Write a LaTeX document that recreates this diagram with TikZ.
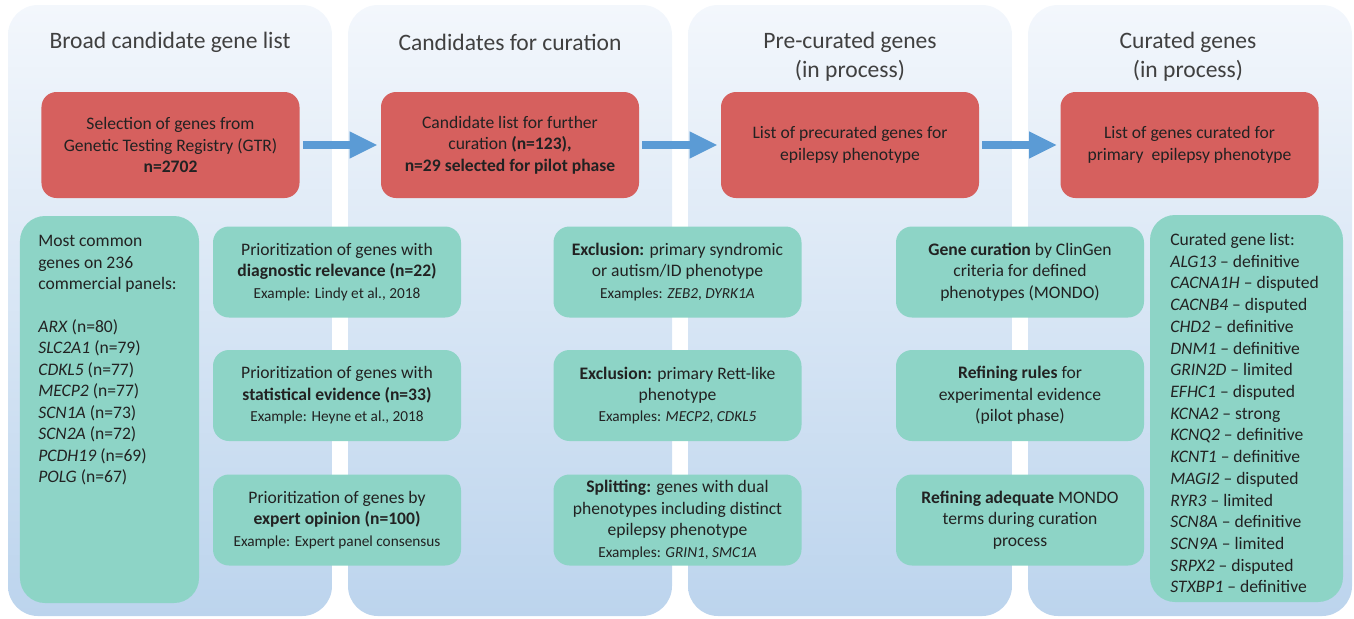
\documentclass[tikz,border=0pt]{standalone}
\usepackage{fontspec}
\setmainfont{Carlito}
\usetikzlibrary{arrows.meta,positioning}
\definecolor{redfill}{HTML}{D6605E}
\definecolor{tealfill}{HTML}{8DD4C6}
\definecolor{bgtop}{HTML}{F3F7FC}
\definecolor{bgbot}{HTML}{BCD4ED}
\definecolor{arrblue}{HTML}{5B9BD5}
\definecolor{txt}{HTML}{222222}
\newcommand{\bodyfont}{\fontsize{10}{12.2}\selectfont}
\newcommand{\exfont}{\fontsize{8.7}{10.5}\selectfont}
\newcommand{\ttlfont}{\fontsize{13.4}{16.4}\selectfont}
\begin{document}
\begin{tikzpicture}[x=0.2mm, y=-0.2mm, font=\bodyfont, text=txt,
  colbg/.style={top color=bgtop, bottom color=bgbot, rounded corners=6mm},
  ttl/.style={font=\ttlfont, text=black!75, align=center},
  redbox/.style={fill=redfill, rounded corners=3mm, minimum width=51.6mm, minimum height=21.2mm, align=center, inner sep=0},
  tealbox/.style={fill=tealfill, rounded corners=3.2mm, minimum width=49.6mm, minimum height=18.2mm, align=center, inner sep=0},
  listbox/.style={fill=tealfill, rounded corners=5mm, minimum height=77.4mm, inner sep=0},
  arr/.style={arrblue, line width=1.7mm, -{Triangle[length=5.6mm, width=5mm]}, shorten <=0.6mm, shorten >=0.6mm}]
  \useasboundingbox (0,0) rectangle (1354,618);
  \foreach \x in {8,348,688,1028} \shade[colbg] (\x,5) rectangle ++(324,611);
  \node[ttl] (t1) at (170,42) {Broad candidate gene list};
  \node[ttl] (t2) at (510,42) {Candidates for curation};
  \node[ttl] (t3) at (850,57) {Pre-curated genes\\(in process)};
  \node[ttl] (t4) at (1188,57) {Curated genes\\(in process)};
  \node[redbox] (gtr) at (170.5,145) {Selection of genes from\\Genetic Testing Registry (GTR)\\\textbf{n=2702}};
  \node[redbox] (cand) at (510,145) {Candidate list for further\\curation \textbf{(n=123),}\\\textbf{n=29 selected for pilot phase}};
  \node[redbox] (precur) at (850,145) {List of precurated genes for\\epilepsy phenotype};
  \node[redbox] (cur) at (1189.5,145) {List of genes curated for\\primary\ \ epilepsy phenotype};
  \draw[arr] (gtr) -- (cand);
  \draw[arr] (cand) -- (precur);
  \draw[arr] (precur) -- (cur);
  \node[listbox, minimum width=35.8mm] (panels) at (109.5,409.5) {};
  \node[anchor=north west, align=left, inner sep=0] (panelstxt) at (38,235) {Most common\\genes on 236\\commercial panels:\\[12.2pt]
    \textit{ARX} (n=80)\\\textit{SLC2A1} (n=79)\\\textit{CDKL5} (n=77)\\\textit{MECP2} (n=77)\\
    \textit{SCN1A} (n=73)\\\textit{SCN2A} (n=72)\\\textit{PCDH19} (n=69)\\\textit{POLG} (n=67)};
  \node[tealbox] (diag) at (337,272) {Prioritization of genes with\\\textbf{diagnostic relevance (n=22)}\\{\exfont Example: Lindy et al., 2018}};
  \node[tealbox] (stat) at (337,395.5) {Prioritization of genes with\\\textbf{statistical evidence (n=33)}\\{\exfont Example: Heyne et al., 2018}};
  \node[tealbox] (expert) at (337,520) {Prioritization of genes by\\\textbf{expert opinion (n=100)}\\{\exfont Example: Expert panel consensus}};
  \node[tealbox] (excl1) at (677.5,272) {\textbf{Exclusion:} primary syndromic\\or autism/ID phenotype\\{\exfont Examples: \textit{ZEB2}, \textit{DYRK1A}}};
  \node[tealbox] (excl2) at (677.5,395.5) {\textbf{Exclusion:} primary Rett-like\\phenotype\\{\exfont Examples: \textit{MECP2}, \textit{CDKL5}}};
  \node[tealbox] (split) at (677.5,520) {\textbf{Splitting:} genes with dual\\phenotypes including distinct\\epilepsy phenotype\\{\exfont Examples: \textit{GRIN1}, \textit{SMC1A}}};
  \node[tealbox] (clingen) at (1020,272) {\textbf{Gene curation} by ClinGen\\criteria for defined\\phenotypes (MONDO)};
  \node[tealbox] (rules) at (1020,395.5) {\textbf{Refining rules} for\\experimental evidence\\(pilot phase)};
  \node[tealbox] (mondo) at (1020,520) {\textbf{Refining adequate} MONDO\\terms during curation\\process};
  \node[listbox, minimum width=38.6mm] (curlist) at (1246.5,408.5) {};
  \node[anchor=north west, align=left, inner sep=0, font=\fontsize{10}{12.35}\selectfont] (curlisttxt) at (1170,233) {Curated gene list:\\
    \textit{ALG13} -- definitive\\\textit{CACNA1H} -- disputed\\\textit{CACNB4} -- disputed\\\textit{CHD2} -- definitive\\
    \textit{DNM1} -- definitive\\\textit{GRIN2D} -- limited\\\textit{EFHC1} -- disputed\\\textit{KCNA2} -- strong\\
    \textit{KCNQ2} -- definitive\\\textit{KCNT1} -- definitive\\\textit{MAGI2} -- disputed\\\textit{RYR3} -- limited\\
    \textit{SCN8A} -- definitive\\\textit{SCN9A} -- limited\\\textit{SRPX2} -- disputed\\\textit{STXBP1} -- definitive};
\end{tikzpicture}
\end{document}
